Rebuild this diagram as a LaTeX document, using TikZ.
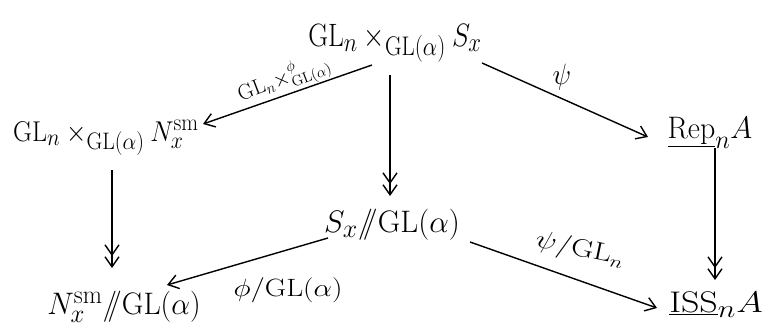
\documentclass[tikz,border=0pt]{standalone}
\usepackage{graphicx}
\usetikzlibrary{arrows.meta,calc}
\begin{document}
\begin{tikzpicture}[x=1pt,y=-1pt,
  obj/.style={inner sep=1pt,font=\Huge},
  lab/.style={inner sep=1pt,font=\LARGE},
  one/.style={line width=1.4pt,-{Straight Barb[length=10pt,width=14pt,line width=1.4pt]}},
  two/.style={line width=1.4pt,-{Straight Barb[length=10pt,width=14pt,line width=1.4pt]Straight Barb[length=10pt,width=14pt,line width=1.4pt]}}]
\useasboundingbox (0,0) rectangle (772,335);
\node[obj] (T) at (395,43) {\scalebox{1.1}[1.3]{$\mathrm{GL}_n\times_{\mathrm{GL}(\alpha)}S_x$}};
\node[obj] (L) at (106,138) {\scalebox{1.05}[1.15]{$\mathrm{GL}_n\times_{\mathrm{GL}(\alpha)}N_x^{\mathrm{sm}}$}};
\node[obj] (R) at (710,133) {\scalebox{1.2}[1.25]{$\underline{\mathrm{Rep}}_n A$}};
\node[obj] (M) at (392,225) {\scalebox{1.25}[1.25]{$S_x/\!\!/\mathrm{GL}(\alpha)$}};
\node[obj] (BL) at (124,307) {\scalebox{1.2}[1.25]{$N_x^{\mathrm{sm}}/\!\!/\mathrm{GL}(\alpha)$}};
\node[obj] (BR) at (716,305) {\scalebox{1.45}[1.2]{$\underline{\mathrm{ISS}}_n A$}};
\draw[one] ($(T.center)+(-23,22)$) -- ($(L.center)+(97,-14)$);
\node[lab,rotate=21] (l1) at (284,79) {\scalebox{1.25}{$\mathrm{GL}_n\times^{\phi}_{\mathrm{GL}(\alpha)}$}};
\draw[one] ($(T.center)+(87,20)$) -- ($(R.center)+(-62,4)$);
\node[lab] (l2) at (562,77) {\scalebox{1.6}[1.7]{$\psi$}};
\draw[two] ($(T.center)+(-5,32)$) -- ($(M.center)+(-2,-29)$);
\draw[two] ($(L.center)+(6,32)$) -- ($(BL.center)+(-12,-39)$);
\draw[two] ($(R.center)+(5,15)$) -- ($(BR.center)+(-1,-25)$);
\draw[one] ($(M.center)+(-64,13)$) -- ($(BL.center)+(43,-22)$);
\node[lab] (l3) at (288,290) {\scalebox{1.7}[1.45]{$\phi/\mathrm{GL}(\alpha)$}};
\draw[one] ($(M.center)+(78,17)$) -- ($(BR.center)+(-59,3)$);
\node[lab,rotate=-12] (l4) at (580,250) {\scalebox{1.8}[1.45]{$\psi/\mathrm{GL}_n$}};
\end{tikzpicture}
\end{document}
